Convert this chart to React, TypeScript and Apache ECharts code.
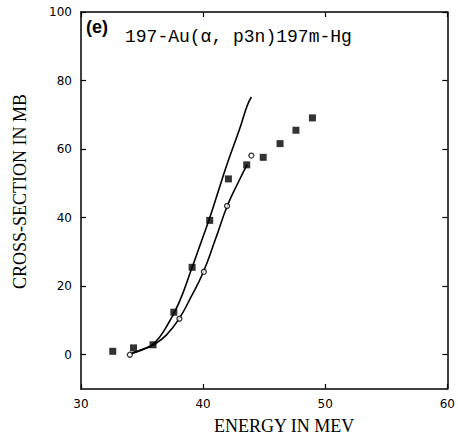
import React, { useEffect, useRef } from "react";
import * as echarts from "echarts";

const squaresX = [32.6, 34.3, 35.9, 37.6, 39.1, 40.54, 42.07, 43.57, 44.92, 46.3, 47.6, 48.95];
const squaresY = [1.0, 2.0, 2.9, 12.4, 25.5, 39.2, 51.3, 55.4, 57.6, 61.6, 65.5, 69.1];
const circlesX = [34.0, 38.06, 40.06, 41.96, 43.95];
const circlesY = [0.0, 10.5, 24.2, 43.4, 58.1];
const upperCurveX = [34.2, 35, 36, 37, 38, 39, 40, 40.5, 41, 42, 43, 43.6, 43.95];
const upperCurveY = [0.6, 1.5, 3.4, 8.2, 15, 24.5, 34.5, 39.5, 45, 56, 66, 72.6, 75.2];
const lowerCurveX = [34.1, 35, 36, 37, 38, 39, 40, 41, 42, 43, 43.6];
const lowerCurveY = [0.3, 1.4, 3.0, 5.8, 10.3, 16.8, 24, 33.6, 43.6, 51.2, 55.5];
const yTickValues = [0, 20, 40, 60, 80, 100];
const xTickValues = [30, 40, 50, 60];

const zip = (xs: number[], ys: number[]) => xs.map((x, i) => [x, ys[i]]);

export default function App() {
  const ref = useRef<HTMLDivElement>(null);
  useEffect(() => {
    if (!ref.current) return;
    const chart = echarts.init(ref.current, null, { renderer: "svg" });
    const axisLine = { show: true, onZero: false, lineStyle: { color: "#000", width: 1.5 } };
    const tickStyle = { inside: true, length: 5, lineStyle: { color: "#000", width: 1.2 } };
    const tickFont = { color: "#000", fontFamily: "DejaVu Sans", fontSize: 12 };
    const titleFont = { color: "#000", fontFamily: "Liberation Serif", fontSize: 18 };
    chart.setOption({
      animation: false,
      backgroundColor: "#fff",
      grid: { left: 81, right: 5, top: 12, bottom: 54 },
      xAxis: [
        {
          type: "value",
          min: 30,
          max: 60,
          interval: 10,
          position: "bottom",
          axisLine,
          splitLine: { show: false },
          axisTick: tickStyle,
          axisLabel: { ...tickFont, margin: 9, customValues: xTickValues },
          name: "ENERGY IN MEV",
          nameLocation: "middle",
          nameGap: 28,
          nameTextStyle: { ...titleFont, padding: [0, 0, 0, 40] },
        },
        {
          type: "value",
          min: 30,
          max: 60,
          interval: 10,
          position: "top",
          axisLine,
          splitLine: { show: false },
          axisTick: tickStyle,
          axisLabel: { show: false },
        },
      ],
      yAxis: [
        {
          type: "value",
          min: -10,
          max: 100,
          position: "left",
          axisLine,
          splitLine: { show: false },
          axisTick: { ...tickStyle, customValues: yTickValues },
          axisLabel: { ...tickFont, margin: 9, customValues: yTickValues },
          name: "CROSS-SECTION IN MB",
          nameLocation: "middle",
          nameGap: 52,
          nameTextStyle: { ...titleFont, padding: [0, 0, 0, 18] },
        },
        {
          type: "value",
          min: -10,
          max: 100,
          position: "right",
          axisLine,
          splitLine: { show: false },
          axisTick: { ...tickStyle, customValues: yTickValues },
          axisLabel: { show: false },
        },
      ],
      graphic: [
        {
          type: "text",
          left: 86,
          top: 18,
          style: { text: "(e)", fill: "#000", fontFamily: "Liberation Sans", fontWeight: "bold", fontSize: 18 },
        },
        {
          type: "text",
          left: 125,
          top: 28,
          style: { text: "197-Au(α, p3n)197m-Hg", fill: "#000", fontFamily: "Liberation Mono", fontSize: 18 },
        },
      ],
      series: [
        {
          type: "line",
          data: zip(upperCurveX, upperCurveY),
          smooth: true,
          showSymbol: false,
          lineStyle: { color: "#000", width: 1.6 },
          z: 2,
        },
        {
          type: "line",
          data: zip(lowerCurveX, lowerCurveY),
          smooth: true,
          showSymbol: false,
          lineStyle: { color: "#000", width: 1.6 },
          z: 2,
        },
        {
          type: "scatter",
          data: zip(squaresX, squaresY),
          symbol: "rect",
          symbolSize: 7,
          itemStyle: { color: "#000" },
          z: 3,
        },
        {
          type: "scatter",
          data: zip(circlesX, circlesY),
          symbol: "circle",
          symbolSize: 5,
          itemStyle: { color: "#fff", borderColor: "#000", borderWidth: 1.3 },
          z: 4,
        },
      ],
    });
    return () => chart.dispose();
  }, []);
  return <div ref={ref} style={{ position: "fixed", left: 0, top: 0, width: 458, height: 443 }} />;
}
